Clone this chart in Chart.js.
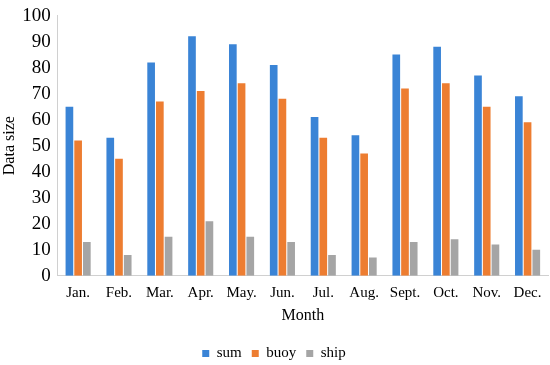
<!DOCTYPE html>
<html>
<head>
<meta charset="utf-8">
<script src="https://cdn.jsdelivr.net/npm/chart.js@4"></script>
<style>
  html, body { margin: 0; padding: 0; background: #fff; }
  #wrap { width: 550px; height: 365px; }
</style>
</head>
<body>
<div id="wrap"><canvas id="chart"></canvas></div>
<script>
const months = ["Jan.", "Feb.", "Mar.", "Apr.", "May.", "Jun.", "Jul.", "Aug.", "Sept.", "Oct.", "Nov.", "Dec."];
const sumValues = [65, 53, 82, 92, 89, 81, 61, 54, 85, 88, 77, 69];
const buoyValues = [52, 45, 67, 71, 74, 68, 53, 47, 72, 74, 65, 59];
const shipValues = [13, 8, 15, 21, 15, 13, 8, 7, 13, 14, 12, 10];

const serif = "'Liberation Serif', 'Times New Roman', serif";

const data = {
  labels: months,
  datasets: [
    { label: 'sum', data: sumValues, backgroundColor: '#3a84d6' },
    { label: 'buoy', data: buoyValues, backgroundColor: '#ed7d31' },
    { label: 'ship', data: shipValues, backgroundColor: '#a5a5a5' }
  ]
};

const config = {
  type: 'bar',
  data,
  options: {
    responsive: true,
    maintainAspectRatio: false,
    animation: false,
    layout: { padding: { top: 3, right: 2, left: 0, bottom: -6 } },
    datasets: { bar: { categoryPercentage: 0.64, barPercentage: 0.88 } },
    plugins: {
      tooltip: { enabled: false },
      legend: {
        position: 'bottom',
        labels: {
          font: { family: serif, size: 15 },
          color: '#000',
          boxWidth: 7,
          boxHeight: 7,
          padding: 10
        }
      }
    },
    scales: {
      x: {
        grid: { display: false, drawTicks: false },
        border: { color: '#d0d0d0' },
        ticks: { font: { family: serif, size: 15 }, color: '#000', padding: 8 },
        title: { display: true, text: 'Month', font: { family: serif, size: 16 }, color: '#000', padding: { top: -4, bottom: 11 } }
      },
      y: {
        min: 0,
        max: 100,
        grid: { display: false, drawTicks: false },
        border: { color: '#d0d0d0' },
        ticks: { stepSize: 10, font: { family: serif, size: 19, lineHeight: 0.9 }, color: '#000', padding: 7 },
        title: { display: true, text: 'Data size', font: { family: serif, size: 16 }, color: '#000', padding: { top: 0, bottom: -4 } }
      }
    }
  }
};

const myBarChart = new Chart(document.getElementById('chart'), config);
</script>
</body>
</html>
